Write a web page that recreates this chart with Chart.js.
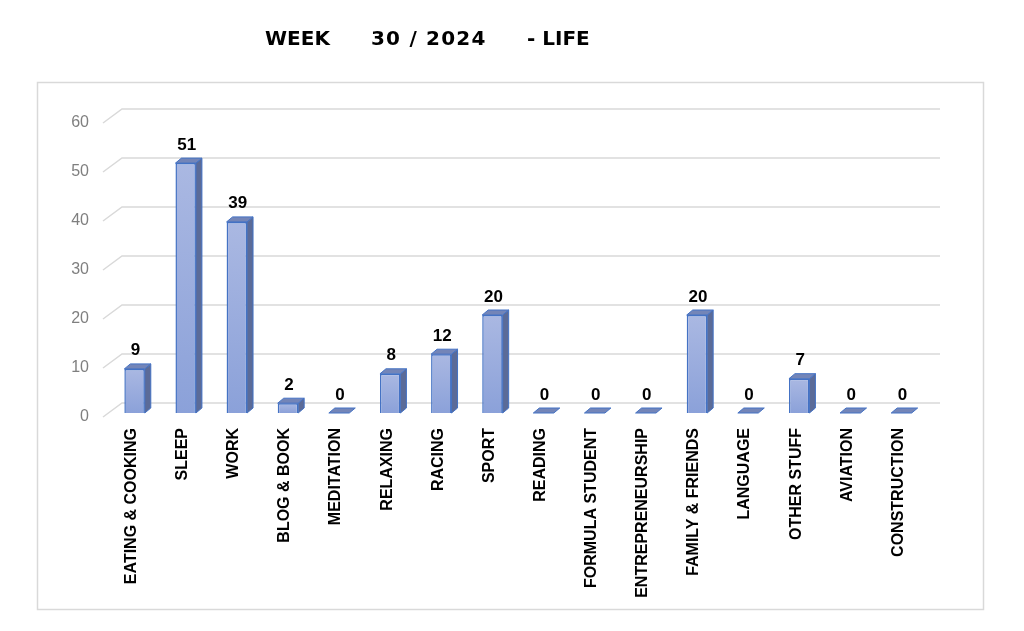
<!DOCTYPE html>
<html>
<head>
<meta charset="utf-8">
<script src="https://cdn.jsdelivr.net/npm/chart.js@4.4.1/dist/chart.umd.min.js"></script>
<style>
  html, body { margin: 0; padding: 0; background: #fff; }
  #wrap { position: relative; width: 1024px; height: 631px; }
  .title {
    position: absolute; top: 28px;
    font: bold 20px "DejaVu Sans", sans-serif;
    line-height: 20px; white-space: pre; color: #000;
  }
  canvas { position: absolute; left: 0; top: 0; }
</style>
</head>
<body>
<div id="wrap">
  <canvas id="lifeChart" width="1024" height="631"></canvas>
  <span class="title" style="left:265px">WEEK</span>
  <span class="title" style="left:371px; letter-spacing:1.2px">30 / 2024</span>
  <span class="title" style="left:527px">- LIFE</span>
</div>
<script>
const categories = [
  "EATING & COOKING", "SLEEP", "WORK", "BLOG & BOOK", "MEDITATION",
  "RELAXING", "RACING", "SPORT", "READING", "FORMULA STUDENT",
  "ENTREPRENEURSHIP", "FAMILY & FRIENDS", "LANGUAGE", "OTHER STUFF",
  "AVIATION", "CONSTRUCTION"
];
const hours = [9, 51, 39, 2, 0, 8, 12, 20, 0, 0, 0, 20, 0, 7, 0, 0];
const yTicks = [0, 10, 20, 30, 40, 50, 60];

// 3d look
const barDepth = { dx: 6, dy: -5 };
const wallFront = { dx: -6, dy: 4 };
const wallBack = { dx: 13, dy: -10 };

const frameBox = {
  id: "frameBox",
  beforeDraw(chart) {
    const ctx = chart.ctx;
    ctx.save();
    ctx.strokeStyle = "#d9d9d9";
    ctx.lineWidth = 1.5;
    ctx.strokeRect(37.5, 82.5, 946, 527);
    ctx.restore();
  }
};

const wallGrid = {
  id: "wallGrid",
  beforeDatasetsDraw(chart) {
    const ctx = chart.ctx;
    const area = chart.chartArea;
    const y = chart.scales.y;
    ctx.save();
    ctx.strokeStyle = "#d9d9d9";
    ctx.lineWidth = 1.5;
    yTicks.forEach(v => {
      const py = y.getPixelForValue(v);
      ctx.beginPath();
      ctx.moveTo(area.left + wallFront.dx, py + wallFront.dy);
      ctx.lineTo(area.left + wallBack.dx, py + wallBack.dy);
      ctx.lineTo(area.right + wallBack.dx, py + wallBack.dy);
      ctx.stroke();
    });
    ctx.restore();
  }
};

const barSides = {
  id: "barSides",
  afterDatasetsDraw(chart) {
    const ctx = chart.ctx;
    const meta = chart.getDatasetMeta(0);
    ctx.save();
    ctx.lineWidth = 1;
    ctx.strokeStyle = "#4472c4";
    meta.data.forEach((bar, i) => {
      const left = bar.x - bar.width / 2;
      const right = bar.x + bar.width / 2;
      const top = bar.y;
      const base = bar.base;
      const { dx, dy } = barDepth;

      if (base - top > 0.5) {
        ctx.fillStyle = "#5b6b98";
        ctx.beginPath();
        ctx.moveTo(right, top);
        ctx.lineTo(right + dx, top + dy);
        ctx.lineTo(right + dx, base + dy);
        ctx.lineTo(right, base);
        ctx.closePath();
        ctx.fill();
        ctx.stroke();
      }

      ctx.fillStyle = "#7385b8";
      ctx.beginPath();
      ctx.moveTo(left, top);
      ctx.lineTo(left + dx, top + dy);
      ctx.lineTo(right + dx, top + dy);
      ctx.lineTo(right, top);
      ctx.closePath();
      ctx.fill();
      ctx.stroke();

      ctx.fillStyle = "#000";
      ctx.font = "bold 17px 'Liberation Sans', Arial, sans-serif";
      ctx.textAlign = "center";
      ctx.textBaseline = "alphabetic";
      ctx.fillText(String(hours[i]), bar.x + 1, top - 13.5);
    });
    ctx.restore();
  }
};

function frontFill(context) {
  const chart = context.chart;
  const y = chart.scales.y;
  if (!y || !chart.chartArea) return "#9aaddf";
  const top = y.getPixelForValue(hours[context.dataIndex]);
  const base = y.getPixelForValue(0);
  if (base - top < 1) return "#9aaddf";
  const g = chart.ctx.createLinearGradient(0, top, 0, base);
  g.addColorStop(0, "#aab8e2");
  g.addColorStop(1, "#8ba1d9");
  return g;
}

new Chart(document.getElementById("lifeChart"), {
  type: "bar",
  data: {
    labels: categories,
    datasets: [{
      data: hours,
      backgroundColor: frontFill,
      borderColor: "#4472c4",
      borderWidth: 1.5,
      barPercentage: 0.4,
      categoryPercentage: 1
    }]
  },
  options: {
    responsive: false,
    animation: false,
    layout: { padding: { left: 0, right: 97, top: 119, bottom: 0 } },
    plugins: {
      legend: { display: false },
      tooltip: { enabled: false },
      title: { display: false }
    },
    scales: {
      x: {
        grid: { display: false, drawTicks: false },
        border: { display: false },
        ticks: {
          autoSkip: false,
          minRotation: 90,
          maxRotation: 90,
          padding: 15,
          labelOffset: -3,
          color: "#000",
          font: { family: "'Liberation Sans', Arial", size: 16, weight: "bold" }
        },
        afterFit(scale) { scale.height = 218; }
      },
      y: {
        min: 0,
        max: 60,
        grid: { display: false, drawTicks: false },
        border: { display: false },
        ticks: {
          stepSize: 10,
          padding: 20,
          labelOffset: 4,
          color: "#7f7f7f",
          font: { family: "'Liberation Sans', Arial", size: 16 }
        },
        afterFit(scale) { scale.width = 109; }
      }
    }
  },
  plugins: [frameBox, wallGrid, barSides]
});
</script>
</body>
</html>
